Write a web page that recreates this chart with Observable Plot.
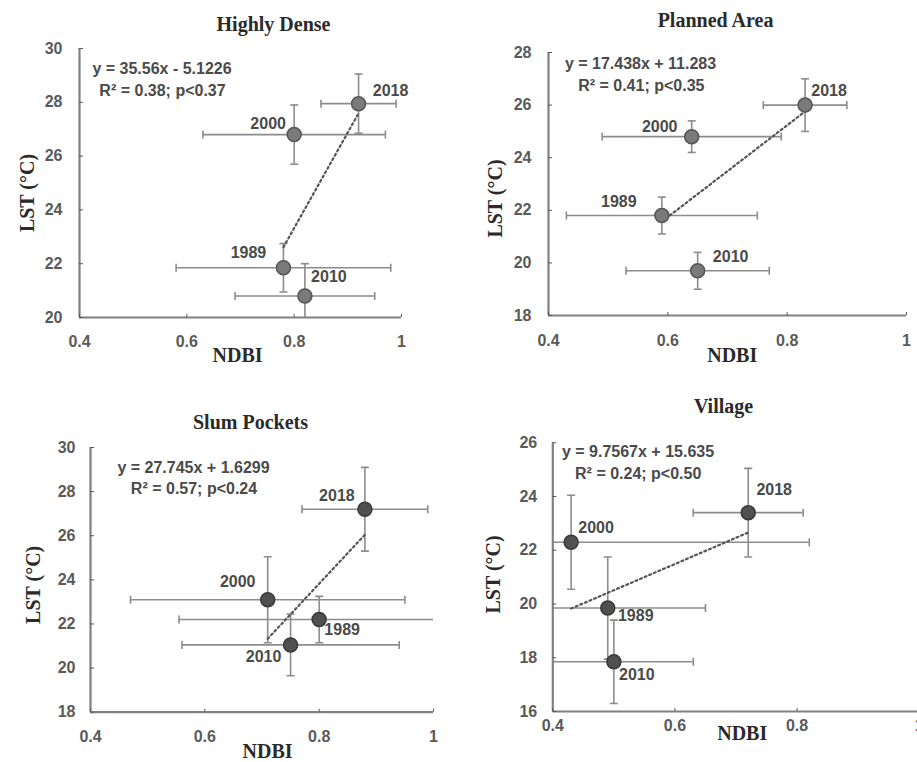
<!DOCTYPE html>
<html><head><meta charset="utf-8">
<script src="https://cdn.jsdelivr.net/npm/d3@7"></script>
<script src="https://cdn.jsdelivr.net/npm/@observablehq/plot@0.6"></script>
<style>
html,body{margin:0;padding:0;background:#fff;}
#chart{position:relative;width:917px;height:762px;overflow:hidden;background:#fff;}
#chart > div{position:absolute;overflow:visible;}
#chart svg{max-width:none;}
</style></head><body><div id="chart"></div>
<script>
// ---------- data ----------
const years = ["1989", "2000", "2010", "2018"];
const panelTitles = ["Highly Dense", "Planned Area", "Slum Pockets", "Village"];
const xLabel = "NDBI";
const yLabel = "LST (°C)";

const ndbiHighlyDense = [0.78, 0.80, 0.82, 0.92];
const ndbiErrHighlyDense = [0.20, 0.17, 0.13, 0.07];
const lstHighlyDense = [21.85, 26.8, 20.8, 27.95];
const lstErrHighlyDense = [0.9, 1.1, 1.2, 1.1];

const ndbiPlanned = [0.59, 0.64, 0.65, 0.83];
const ndbiErrPlanned = [0.16, 0.15, 0.12, 0.07];
const lstPlanned = [21.8, 24.8, 19.7, 26.0];
const lstErrPlanned = [0.7, 0.6, 0.7, 1.0];

const ndbiSlum = [0.80, 0.71, 0.75, 0.88];
const ndbiErrSlum = [0.245, 0.24, 0.19, 0.11];
const lstSlum = [22.2, 23.1, 21.05, 27.2];
const lstErrSlum = [1.05, 1.95, 1.4, 1.9];

const ndbiVillage = [0.49, 0.43, 0.50, 0.72];
const ndbiErrVillage = [0.16, 0.39, 0.13, 0.09];
const lstVillage = [19.85, 22.3, 17.85, 23.4];
const lstErrVillage = [1.9, 1.75, 1.55, 1.65];

const slopes = [35.56, 17.438, 27.745, 9.7567];
const intercepts = [-5.1226, 11.283, 1.6299, 15.635];
const equationLabels = ["y = 35.56x - 5.1226", "y = 17.438x + 11.283", "y = 27.745x + 1.6299", "y = 9.7567x + 15.635"];
const statLabels = ["R² = 0.38; p<0.37", "R² = 0.41; p<0.35", "R² = 0.57; p<0.24", "R² = 0.24; p<0.50"];

const xDomain = [0.4, 1];
const xTicks = [0.4, 0.6, 0.8, 1];
const yDomains = [[20, 30], [18, 28], [18, 30], [16, 26]];
const yTicks = [[20, 22, 24, 26, 28, 30], [18, 20, 22, 24, 26, 28], [18, 20, 22, 24, 26, 28, 30], [16, 18, 20, 22, 24, 26]];

const ndbiAll = [ndbiHighlyDense, ndbiPlanned, ndbiSlum, ndbiVillage];
const ndbiErrAll = [ndbiErrHighlyDense, ndbiErrPlanned, ndbiErrSlum, ndbiErrVillage];
const lstAll = [lstHighlyDense, lstPlanned, lstSlum, lstVillage];
const lstErrAll = [lstErrHighlyDense, lstErrPlanned, lstErrSlum, lstErrVillage];

// ---------- layout / style ----------
const layout = [
  {left: 0, top: 0, w: 458, h: 380, ml: 79, mt: 48, mr: 57, mb: 63, xPad: 21.3, yPad: 21,
   title: [33, -24], ylab: [-52, 10], xlab: [-3, 38], eq: [82.5, 20], st: [83, 42],
   yearOff: [[-35, -15], [-26, -11], [24, -19], [32, -13]], fill: "#7a7a7a", stroke: "#555"},
  {left: 458, top: 0, w: 459, h: 380, ml: 90, mt: 52, mr: 11, mb: 65, xPad: 22.3, yPad: 21,
   title: [-12, -32], ylab: [-53, 14.5], xlab: [4.7, 40], eq: [92, 11.3], st: [92.8, 33],
   yearOff: [[-43, -14], [-32, -10], [33, -14], [24, -14]], fill: "#7a7a7a", stroke: "#555"},
  {left: 0, top: 380, w: 458, h: 382, ml: 90, mt: 67, mr: 25, mb: 50.3, xPad: 21.6, yPad: 19,
   title: [-11.5, -25], ylab: [-57, 5], xlab: [5.5, 39.5], eq: [103, 20.6], st: [103.5, 41.6],
   yearOff: [[23, 10], [-30, -18], [-27, 12], [-28, -13]], fill: "#505050", stroke: "#3a3a3a"},
  {left: 458, top: 380, w: 480, h: 382, ml: 94.3, mt: 62.3, mr: 19.3, mb: 51, xPad: 11.3, yPad: 19.6,
   title: [-12.5, -36.3], ylab: [-59.3, -2.7], xlab: [6.2, 22.3], eq: [85.2, 9.4], st: [85.4, 31],
   yearOff: [[28, 8], [25, -14], [23, 13], [26, -23]], fill: "#505050", stroke: "#3a3a3a"}
];

const SANS = "'Liberation Sans', Arial, sans-serif";
const SERIF = "'Liberation Serif', 'Times New Roman', serif";
const errColor = "#8c8c8c";
const axisColor = "#808080";

const capV = {draw(ctx) { ctx.moveTo(0, -4); ctx.lineTo(0, 4); }};
const capH = {draw(ctx) { ctx.moveTo(-4, 0); ctx.lineTo(4, 0); }};

function makePanel(i) {
  const L = layout[i];
  const pts = years.map((yr, j) => ({
    year: yr, x: ndbiAll[i][j], ex: ndbiErrAll[i][j], y: lstAll[i][j], ey: lstErrAll[i][j]
  }));
  const x0 = d3.min(pts, d => d.x), x1 = d3.max(pts, d => d.x);
  const trend = [x0, x1].map(x => ({x, y: slopes[i] * x + intercepts[i]}));
  const yd = yDomains[i];

  const yearMarks = pts.map((d, j) => Plot.text([d], {
    x: "x", y: "y", text: "year", dx: L.yearOff[j][0], dy: L.yearOff[j][1],
    fontFamily: SANS, fontSize: 16, fontWeight: "bold", fill: "#4a4a4a", lineAnchor: "middle"
  }));

  const svg = Plot.plot({
    width: L.w, height: L.h,
    marginLeft: L.ml, marginTop: L.mt, marginRight: L.mr, marginBottom: L.mb,
    x: {domain: xDomain},
    y: {domain: yd},
    style: {fontFamily: SANS, background: "transparent", overflow: "visible"},
    marks: [
      // error bars
      Plot.ruleY(pts, {y: "y", x1: d => d.x - d.ex, x2: d => d.x + d.ex, stroke: errColor, strokeWidth: 1.6, clip: true}),
      Plot.ruleX(pts, {x: "x", y1: d => d.y - d.ey, y2: d => d.y + d.ey, stroke: errColor, strokeWidth: 1.6, clip: true}),
      Plot.dot(pts, {x: d => d.x - d.ex, y: "y", symbol: capV, fill: "none", stroke: errColor, strokeWidth: 1.6, clip: true}),
      Plot.dot(pts, {x: d => d.x + d.ex, y: "y", symbol: capV, fill: "none", stroke: errColor, strokeWidth: 1.6, clip: true}),
      Plot.dot(pts, {x: "x", y: d => d.y - d.ey, symbol: capH, fill: "none", stroke: errColor, strokeWidth: 1.6, clip: true}),
      Plot.dot(pts, {x: "x", y: d => d.y + d.ey, symbol: capH, fill: "none", stroke: errColor, strokeWidth: 1.6, clip: true}),
      // axes
      Plot.ruleX([xDomain[0]], {stroke: axisColor, strokeWidth: 2.2}),
      Plot.ruleY([yd[0]], {stroke: axisColor, strokeWidth: 2.2}),
      Plot.axisX(xTicks, {tickSize: -3, tickPadding: L.xPad, tickFormat: d => String(d), label: null,
        fontSize: 16, fontWeight: "bold", color: "#5a5a5a", fontFamily: SANS}),
      Plot.axisY(yTicks[i], {tickSize: -4, tickPadding: L.yPad, tickFormat: d => String(d), label: null,
        fontSize: 16, fontWeight: "bold", color: "#5a5a5a", fontFamily: SANS}),
      // trend line
      Plot.line(trend, {x: "x", y: "y", stroke: "#555", strokeWidth: 2.2, strokeDasharray: "2,3"}),
      // points
      Plot.dot(pts, {x: "x", y: "y", r: 7, fill: L.fill, stroke: L.stroke, strokeWidth: 1.5}),
      ...yearMarks,
      // equation text
      Plot.text([equationLabels[i]], {frameAnchor: "top-left", dx: L.eq[0], dy: L.eq[1], textAnchor: "middle", lineAnchor: "middle",
        fontFamily: SANS, fontSize: 16, fontWeight: "bold", fill: "#4a4a4a"}),
      Plot.text([statLabels[i]], {frameAnchor: "top-left", dx: L.st[0], dy: L.st[1], textAnchor: "middle", lineAnchor: "middle",
        fontFamily: SANS, fontSize: 16, fontWeight: "bold", fill: "#4a4a4a"}),
      // titles and axis labels
      Plot.text([panelTitles[i]], {frameAnchor: "top", dx: L.title[0], dy: L.title[1], lineAnchor: "middle",
        fontFamily: SERIF, fontSize: 20, fontWeight: "bold", fill: "#2a2a2a"}),
      Plot.text([yLabel], {frameAnchor: "left", rotate: -90, dx: L.ylab[0], dy: L.ylab[1], lineAnchor: "middle", textAnchor: "middle",
        fontFamily: SERIF, fontSize: 20, fontWeight: "bold", fill: "#2a2a2a"}),
      Plot.text([xLabel], {frameAnchor: "bottom", dx: L.xlab[0], dy: L.xlab[1], lineAnchor: "middle",
        fontFamily: SERIF, fontSize: 20, fontWeight: "bold", fill: "#2a2a2a"})
    ]
  });
  svg.style.maxWidth = "none";
  const wrap = document.createElement("div");
  wrap.style.left = L.left + "px";
  wrap.style.top = L.top + "px";
  wrap.style.width = L.w + "px";
  wrap.style.height = L.h + "px";
  wrap.appendChild(svg);
  return wrap;
}

const chart = document.getElementById("chart");
[0, 1, 2, 3].forEach(i => chart.appendChild(makePanel(i)));
</script>
</body></html>
